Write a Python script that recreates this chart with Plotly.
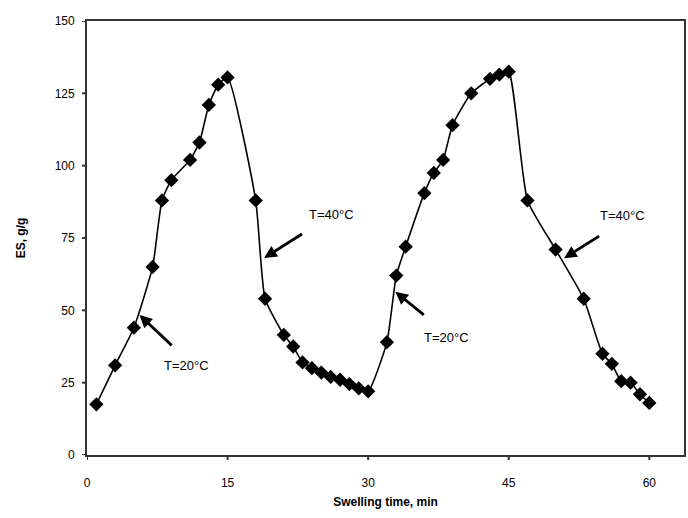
import plotly.graph_objects as go

time_min = [1, 3, 5, 7, 8, 9, 11, 12, 13, 14, 15, 18, 19, 21, 22, 23, 24, 25, 26, 27, 28, 29, 30,
            32, 33, 34, 36, 37, 38, 39, 41, 43, 44, 45, 47, 50, 53, 55, 56, 57, 58, 59, 60]
es_gg = [17.5, 31, 44, 65, 88, 95, 102, 108, 121, 128, 130.5, 88, 54, 41.5, 37.5, 32, 30, 28.5, 27, 26, 24.5, 23, 22,
         39, 62, 72, 90.5, 97.5, 102, 114, 125, 130, 131.5, 132.5, 88, 71, 54, 35, 31.5, 25.5, 25, 21, 18]

x_ticks = [0, 15, 30, 45, 60]
y_ticks = [0, 25, 50, 75, 100, 125, 150]
x_range = [0, 63.7]
y_range = [0, 150]

# annotation labels: (text, text_x, text_y, head_x, head_y, tail_x, tail_y)
labels = [
    ("T=40°C", 26.1, 83.1, 18.9, 68.1, 23.1, 76.7),
    ("T=20°C", 10.6, 30.9, 5.6, 48.4, 9.2, 37.4),
    ("T=20°C", 38.4, 40.6, 32.9, 56.4, 36.1, 48.0),
    ("T=40°C", 57.1, 82.9, 50.9, 68.0, 54.8, 76.0),
]

W, H = 688, 518
M = dict(l=87, r=2, t=21, b=63)
plot_w = W - M["l"] - M["r"]
plot_h = H - M["t"] - M["b"]
TICK_PX = 5

fig = go.Figure()
fig.add_trace(go.Scatter(
    x=time_min, y=es_gg, mode="lines+markers",
    line=dict(color="black", width=1.6, shape="spline", smoothing=0.5),
    marker=dict(symbol="diamond", size=11, color="black"),
    showlegend=False,
))

annotations = []
for text, tx, ty, hx, hy, ax_, ay_ in labels:
    annotations.append(dict(x=tx, y=ty, xref="x", yref="y", text=text, showarrow=False,
                            font=dict(family="Liberation Sans, Arial", size=13, color="black")))
    annotations.append(dict(x=hx, y=hy, xref="x", yref="y", ax=ax_, ay=ay_, axref="x", ayref="y",
                            text="", showarrow=True, arrowhead=2, arrowsize=0.9, arrowwidth=2.8,
                            arrowcolor="black"))

# outside tick marks (drawn as shapes so the labels can be offset independently)
shapes = []
for xv in x_ticks:
    shapes.append(dict(type="line", xref="x", yref="paper", x0=xv, x1=xv,
                       y0=0, y1=-TICK_PX / plot_h, line=dict(color="#333", width=2)))
for yv in y_ticks:
    shapes.append(dict(type="line", xref="paper", yref="y", x0=0, x1=-TICK_PX / plot_w,
                       y0=yv, y1=yv, line=dict(color="#333", width=2)))

fig.update_layout(
    width=W, height=H,
    margin=M,
    paper_bgcolor="white", plot_bgcolor="white",
    font=dict(family="Liberation Sans, Arial", size=12, color="black"),
    annotations=annotations,
    shapes=shapes,
    xaxis=dict(range=x_range, tickvals=x_ticks, ticks="",
               ticklabelstandoff=16,
               showline=True, linecolor="#333", linewidth=1.8, mirror=True, showgrid=False,
               zeroline=False,
               title=dict(text="<b>Swelling time, min</b>", font=dict(size=12), standoff=8)),
    yaxis=dict(range=y_range, tickvals=y_ticks, ticks="",
               ticklabelstandoff=8,
               showline=True, linecolor="#333", linewidth=1.8, mirror=True, showgrid=False,
               zeroline=False,
               title=dict(text="<b>ES, g/g</b>", font=dict(size=12), standoff=26)),
)

fig.write_html("out.html", config={"displayModeBar": False},
               post_script="document.body.style.margin='0';document.body.style.overflow='hidden';")
